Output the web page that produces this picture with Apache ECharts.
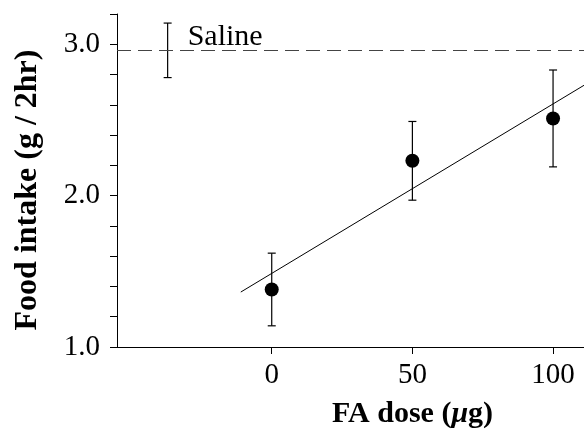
<!DOCTYPE html>
<html>
<head>
<meta charset="utf-8">
<script src="https://cdn.jsdelivr.net/npm/echarts@6/dist/echarts.min.js"></script>
<style>
html, body { margin: 0; padding: 0; background: #fff; }
#chart { width: 584px; height: 434px; }
</style>
</head>
<body>
<div id="chart"></div>
<script>
// FA dose groups
var doses = [0, 50, 100];
var intakeMean = [1.38, 2.23, 2.51];
var intakeErr = [0.24, 0.26, 0.32];

// saline control, drawn at the left of the plot
var salineX = -37;
var salineMean = 2.96;
var salineErr = 0.18;

// regression line end points
var fitX = [-11, 111];
var fitY = [1.363, 2.729];

var xTicks = [0, 50, 100];
var yLabels = [1, 2, 3];

(function(){
    var myChart = echarts.init(document.getElementById("chart"));
    var font = "'Liberation Serif', 'Times New Roman', serif";

    var errData = [];
    for (var i = 0; i < doses.length; i++) {
        errData.push([doses[i], intakeMean[i] - intakeErr[i], intakeMean[i] + intakeErr[i]]);
    }
    var pts = [];
    for (i = 0; i < doses.length; i++) {
        pts.push([doses[i], intakeMean[i]]);
    }
    var fit = [[fitX[0], fitY[0]], [fitX[1], fitY[1]]];

    function errBar(params, api, withLabel) {
        var x = api.value(0);
        var lo = api.coord([x, api.value(1)]);
        var hi = api.coord([x, api.value(2)]);
        var w = 4;
        var st = {stroke: '#000', lineWidth: 1.2};
        var kids = [
            {type: 'line', shape: {x1: lo[0], y1: lo[1], x2: hi[0], y2: hi[1]}, style: st},
            {type: 'line', shape: {x1: lo[0] - w, y1: lo[1], x2: lo[0] + w, y2: lo[1]}, style: st},
            {type: 'line', shape: {x1: hi[0] - w, y1: hi[1], x2: hi[0] + w, y2: hi[1]}, style: st}
        ];
        if (withLabel) {
            var mid = api.coord([x, salineMean]);
            kids.push({
                type: 'text',
                style: {
                    text: 'Saline', x: mid[0] + 20, y: mid[1] + 2,
                    font: '30px ' + font, fill: '#000',
                    align: 'left', verticalAlign: 'bottom'
                }
            });
        }
        return {type: 'group', children: kids};
    }

    option = {
        animation: false,
        grid: {
            left: 117,
            right: 0,
            top: 14,
            bottom: 87
        },
        xAxis: {
            type: 'value',
            min: -55,
            max: 111,
            name: '{b|FA dose (}{i|\u03bc}{b|g)}',
            nameLocation: 'middle',
            nameGap: 52,
            nameTextStyle: {
                padding: [0, 0, 0, 124],
                rich: {
                    b: {fontFamily: font, fontSize: 30, fontWeight: 'bold', color: '#000'},
                    i: {fontFamily: font, fontSize: 30, fontWeight: 'bold', fontStyle: 'italic', color: '#000'}
                }
            },
            splitLine: {show: false},
            axisLine: {onZero: false, lineStyle: {color: '#000', width: 1}},
            axisTick: {customValues: xTicks, length: 7, lineStyle: {color: '#000'}},
            axisLabel: {
                customValues: xTicks, margin: 14,
                fontFamily: font, fontSize: 29, color: '#000'
            }
        },
        yAxis: {
            type: 'value',
            min: 1.0,
            max: 3.2,
            interval: 0.2,
            name: 'Food intake (g / 2hr)',
            nameLocation: 'middle',
            nameGap: 73,
            nameTextStyle: {
                fontFamily: font, fontSize: 32, fontWeight: 'bold', color: '#000',
                padding: [0, 19, 0, 0]
            },
            splitLine: {show: false},
            axisLine: {show: true, onZero: false, lineStyle: {color: '#000', width: 1}},
            axisTick: {show: true, length: 7, lineStyle: {color: '#000'}},
            axisLabel: {
                customValues: yLabels, margin: 17,
                fontFamily: font, fontSize: 29, color: '#000',
                formatter: function (v) { return v.toFixed(1); }
            }
        },
        series: [
            {
                type: 'line',
                data: fit,
                symbol: 'none',
                lineStyle: {color: '#000', width: 1},
                silent: true,
                markLine: {
                    silent: true,
                    symbol: 'none',
                    label: {show: false},
                    lineStyle: {color: '#444', width: 1, type: [14, 7]},
                    data: [{yAxis: salineMean}]
                }
            },
            {
                type: 'custom',
                data: errData,
                renderItem: function (params, api) { return errBar(params, api, false); },
                z: 3
            },
            {
                type: 'custom',
                data: [[salineX, salineMean - salineErr, salineMean + salineErr]],
                renderItem: function (params, api) { return errBar(params, api, true); },
                z: 3
            },
            {
                type: 'scatter',
                data: pts,
                symbol: 'circle',
                symbolSize: 14,
                itemStyle: {color: '#000', opacity: 1},
                z: 4
            }
        ]
    };

    myChart.setOption(option);
})();
</script>
</body>
</html>
